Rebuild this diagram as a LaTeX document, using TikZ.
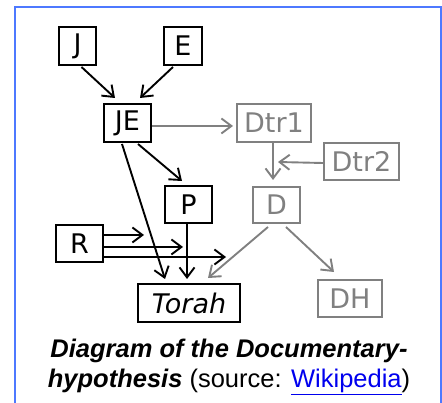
\documentclass[tikz,border=0pt]{standalone}
\usepackage{fontspec}
\usetikzlibrary{arrows.meta,calc}
\newfontfamily\boxfont{DejaVu Sans}
\newfontfamily\capfont{Liberation Sans}
\definecolor{framecol}{RGB}{77,121,255}
\definecolor{greyc}{RGB}{128,128,128}
\definecolor{linkcol}{RGB}{0,0,238}
\tikzset{
  box/.style={draw=black, line width=2pt, inner sep=0pt, font=\boxfont\fontsize{27}{29}\selectfont, text=black},
  gbox/.style={box, draw=greyc, text=greyc},
  arr/.style={line width=1.9pt, -{Straight Barb[length=10pt,width=15pt,line width=1.9pt]}},
  garr/.style={arr, draw=greyc},
}
\begin{document}
\begin{tikzpicture}[x=1pt,y=-1pt]
\useasboundingbox (0,0) rectangle (442,403);
\draw[framecol, line width=2pt] (15,404) -- (15,7) -- (441,7) -- (441,404);
% nodes
\node[box, minimum width=37, minimum height=38] (J) at (77.5,46) {J};
\node[box, minimum width=38, minimum height=38] (E) at (183,46) {E};
\node[box, minimum width=47, minimum height=38] (JE) at (127.5,123) {JE};
\node[gbox, minimum width=74, minimum height=38] (Dtr1) at (274,123) {Dtr1};
\node[gbox, minimum width=75, minimum height=37] (Dtr2) at (361.5,161.5) {Dtr2};
\node[gbox, minimum width=47, minimum height=36] (D) at (276.5,205) {D};
\node[box, minimum width=47, minimum height=37] (P) at (188.5,205) {P};
\node[box, minimum width=47, minimum height=37] (R) at (79.5,243.5) {R};
\node[box, minimum width=102, minimum height=38] (Torah) at (189,303) {\itshape Torah};
\node[gbox, minimum width=64, minimum height=37] (DH) at (350,298.5) {DH};
% connectors
\draw[arr] ($(J.south)+(4,1)$) -- ($(JE.north)+(-12.5,-5)$);
\draw[arr] ($(E.south)+(-10,1)$) -- ($(JE.north)+(12.5,-5)$);
\draw[garr] ($(JE.east)+(0,3)$) -- ($(Dtr1.west)+(-3,3)$);
\draw[arr] ($(JE.south)+(10.5,1)$) -- ($(P.north)+(-6.5,-4.5)$);
\draw[arr] ($(JE.south)+(-5.5,1)$) -- ($(Torah.north)+(-24,-4)$);
\draw[arr] ($(P.south)+(-1.5,0)$) -- ($(Torah.north)+(-2,-4)$);
\coordinate (r1) at ($(R.east)+(40,-8.5)$);
\coordinate (r2) at ($(R.east)+(79,3.5)$);
\coordinate (r3) at ($(R.east)+(122,13.5)$);
\draw[arr] ($(R.east)+(0,-8.5)$) -- (r1);
\draw[arr] ($(R.east)+(0,3.5)$) -- (r2);
\draw[arr] ($(R.east)+(0,13.5)$) -- (r3);
\draw[garr] ($(Dtr1.south)+(-1,0)$) -- ($(D.north)+(-3.5,-6)$);
\draw[garr] ($(Dtr2.west)+(0,1.5)$) -- ($(D.north)+(1.5,-24)$);
\draw[garr] ($(D.south)+(-8.5,3)$) -- ($(Torah.north)+(19,-5)$);
\draw[garr] ($(D.south)+(9.5,3)$) -- ($(DH.north)+(-16,-7)$);
% caption
\node[align=center, font=\capfont\fontsize{25.5}{30}\selectfont, inner sep=0pt] (cap) at (229,367)
  {\textbf{\textit{Diagram of the Documentary-}}\\
   \textbf{\textit{hypothesis}} (source: {\color{linkcol}\underline{Wikipedia}})};
\end{tikzpicture}
\end{document}
